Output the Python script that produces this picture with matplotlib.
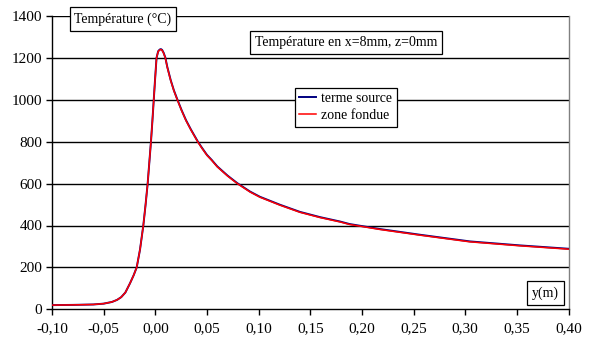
import numpy as np
import matplotlib.pyplot as plt

# position y (m) and temperature (°C)
pos_y = [-0.100, -0.080, -0.060, -0.050, -0.042, -0.037, -0.033, -0.029,
         -0.0245, -0.021, -0.018, -0.0148, -0.0116, -0.0094, -0.0074, -0.0058,
         -0.0042, -0.0028, -0.0015, -0.0003, 0.0012, 0.0028, 0.0043, 0.0055,
         0.0066, 0.0080, 0.0097, 0.0116, 0.0149, 0.0180, 0.0213, 0.0255, 0.0297,
         0.0345, 0.0410, 0.0450, 0.0500, 0.0546, 0.060, 0.070, 0.0794, 0.0917,
         0.1013, 0.1207, 0.140, 0.1594, 0.1788, 0.188, 0.2175, 0.256, 0.3046,
         0.353, 0.400]
temp_source = [20, 21, 23, 27, 35, 45, 58, 80,
               124, 162, 200, 285, 400, 500, 600, 700,
               800, 900, 1000, 1092, 1200, 1232, 1240, 1242,
               1238, 1225, 1202, 1157, 1094, 1045, 1002, 950, 903,
               858, 802, 772, 737, 713, 682, 638, 602, 562,
               537, 499, 465, 440, 419, 407, 383, 356, 324,
               305, 289]
temp_fondue = [20, 21, 23, 27, 35, 45, 58, 80,
               124, 162, 200, 285, 400, 500, 600, 700,
               800, 900, 1000, 1090, 1200, 1231, 1238, 1240,
               1236, 1223, 1200, 1155, 1092, 1043, 1000, 948, 901,
               856, 800, 770, 735, 711, 680, 636, 600, 560,
               535, 497, 463, 438, 417, 405, 381, 354, 322,
               303, 287]

xticks = [-0.10, -0.05, 0.00, 0.05, 0.10, 0.15, 0.20, 0.25, 0.30, 0.35, 0.40]
yticks = [0, 200, 400, 600, 800, 1000, 1200, 1400]

plt.rcParams['font.family'] = ['Liberation Serif', 'DejaVu Serif']
plt.rcParams['font.size'] = 10

fig = plt.figure(figsize=(5.91, 3.42), dpi=100)
ax = fig.add_axes([52 / 591, 1 - 309.3 / 342, (568.5 - 52) / 591, (309.3 - 16) / 342])

ax.plot(pos_y, temp_source, color='#000080', lw=1.4, label='terme source', zorder=3)
ax.plot(pos_y, temp_fondue, color='#ff0000', lw=1.1, label='zone fondue', zorder=4)

ax.set_xlim(-0.10, 0.40)
ax.set_ylim(0, 1400)
ax.set_xticks(xticks)
ax.set_xticklabels([f"{v:.2f}".replace('.', ',') for v in xticks])
ax.set_yticks(yticks)
ax.set_yticklabels([str(v) for v in yticks])

for v in yticks[1:]:
    ax.axhline(v, color='black', lw=1.0, zorder=1)

ax.tick_params(axis='both', direction='out', length=4, width=1.0, colors='black', labelsize=11)
ax.tick_params(axis='x', pad=5)
ax.tick_params(axis='y', pad=3)
for s in ['left', 'bottom']:
    ax.spines[s].set_color('black')
    ax.spines[s].set_linewidth(1.0)
ax.spines['top'].set_visible(False)
ax.spines['right'].set_color('#808080')
ax.spines['right'].set_linewidth(1.0)

box = dict(boxstyle='square,pad=0.35', fc='white', ec='black', lw=0.9)
fig.text(123 / 591, 1 - 19 / 342, 'Température (°C)', ha='center', va='center', bbox=box, zorder=10)
fig.text(346 / 591, 1 - 42.5 / 342, 'Température en x=8mm, z=0mm', ha='center', va='center', bbox=box, zorder=10)
fig.text(545.5 / 591, 1 - 293 / 342, 'y(m)', ha='center', va='center', bbox=box, zorder=10)

leg = ax.legend(loc='upper left', bbox_to_anchor=(295 / 591, 1 - 88 / 342),
                bbox_transform=fig.transFigure, frameon=True, fancybox=False,
                edgecolor='black', framealpha=1, handlelength=1.2, handletextpad=0.4,
                borderpad=0.3, labelspacing=0.3, borderaxespad=0)
leg.get_frame().set_linewidth(0.9)

fig.savefig('out.png', dpi=100)
